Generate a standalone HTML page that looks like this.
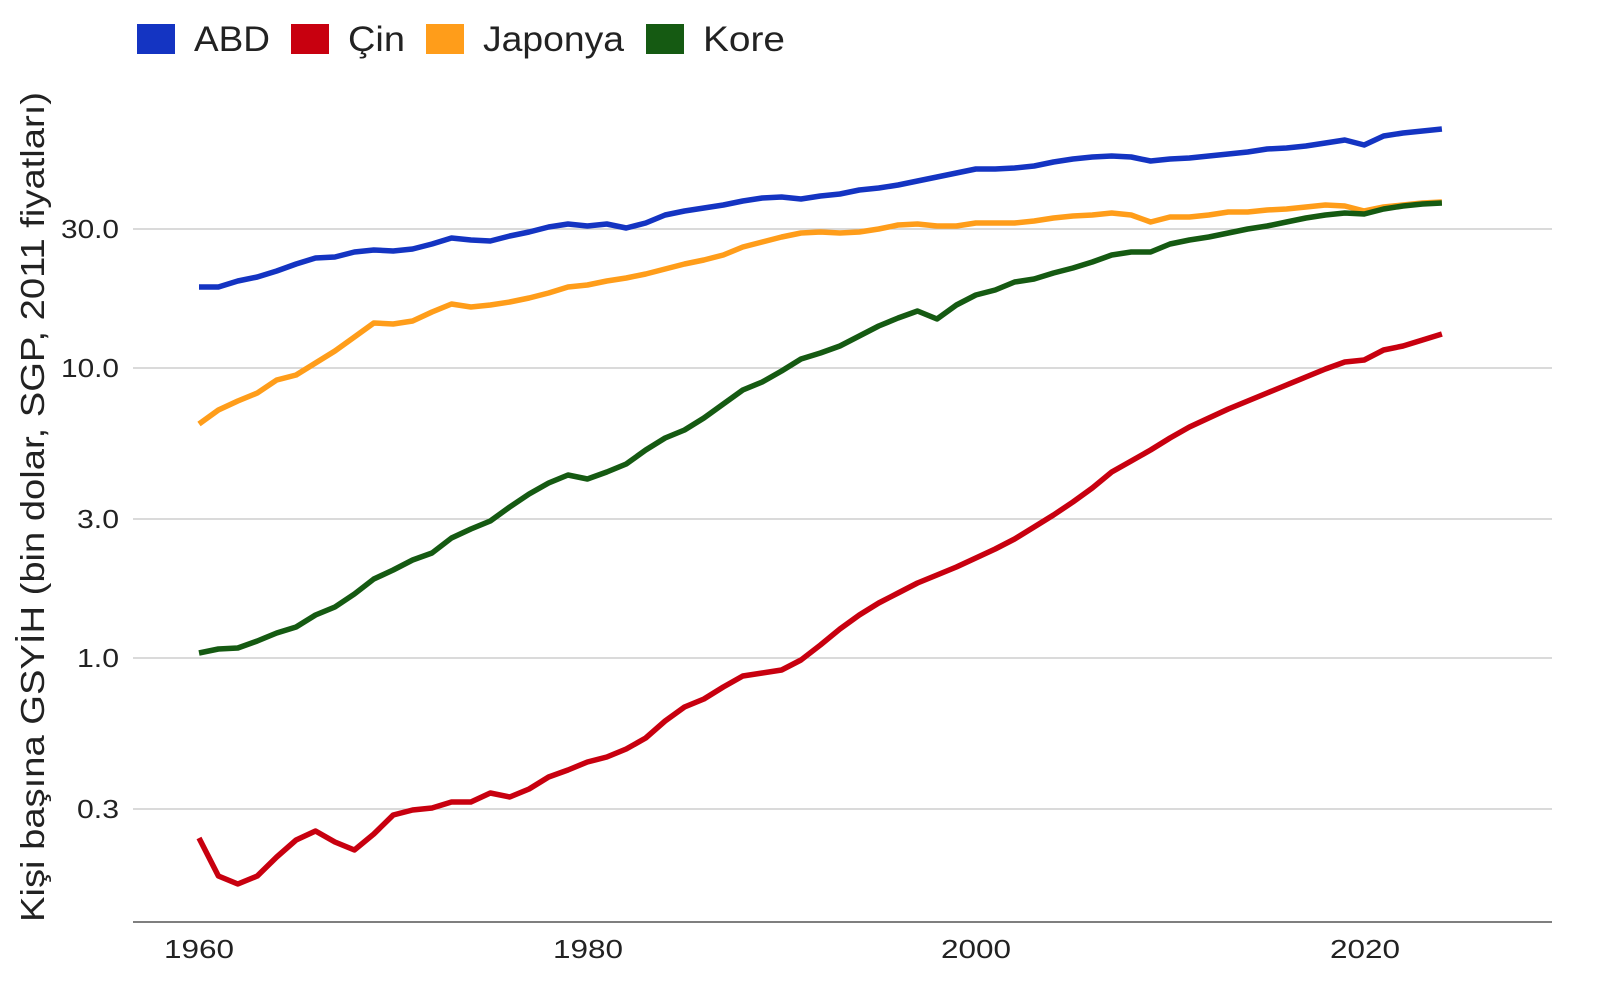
<!DOCTYPE html>
<html><head><meta charset="utf-8"><style>
html,body{margin:0;padding:0;background:#fff;width:1600px;height:1000px;overflow:hidden}
svg text{font-family:"Liberation Sans","DejaVu Sans",sans-serif;fill:#222}
</style></head><body>
<svg id="s" width="1600" height="1000" viewBox="0 0 1600 1000" xmlns="http://www.w3.org/2000/svg">
<g stroke="#c4c4c4" stroke-width="1.3">
<line x1="133" x2="1552" y1="229" y2="229"/>
<line x1="133" x2="1552" y1="368" y2="368"/>
<line x1="133" x2="1552" y1="519" y2="519"/>
<line x1="133" x2="1552" y1="658" y2="658"/>
<line x1="133" x2="1552" y1="809" y2="809"/>
</g>
<line x1="133" x2="1552" y1="922" y2="922" stroke="#555" stroke-width="1.5"/>
<g font-size="26" text-anchor="end">
<text x="119" y="238" textLength="58" lengthAdjust="spacingAndGlyphs">30.0</text>
<text x="119" y="377" textLength="58" lengthAdjust="spacingAndGlyphs">10.0</text>
<text x="119" y="528" textLength="42" lengthAdjust="spacingAndGlyphs">3.0</text>
<text x="119" y="667" textLength="42" lengthAdjust="spacingAndGlyphs">1.0</text>
<text x="119" y="818" textLength="42" lengthAdjust="spacingAndGlyphs">0.3</text>
</g>
<g font-size="26" text-anchor="middle">
<text x="199" y="958" textLength="70" lengthAdjust="spacingAndGlyphs">1960</text>
<text x="588" y="958" textLength="70" lengthAdjust="spacingAndGlyphs">1980</text>
<text x="976" y="958" textLength="70" lengthAdjust="spacingAndGlyphs">2000</text>
<text x="1365" y="958" textLength="70" lengthAdjust="spacingAndGlyphs">2020</text>
</g>
<text transform="translate(44,507) rotate(-90)" font-size="33" text-anchor="middle" textLength="830" lengthAdjust="spacingAndGlyphs">Kişi başına GSYİH (bin dolar, SGP, 2011 fiyatları)</text>
<g font-size="35">
<rect x="137" y="24" width="38" height="30" fill="#1434c2"/><text x="194" y="51" textLength="76" lengthAdjust="spacingAndGlyphs">ABD</text>
<rect x="291" y="24" width="38" height="30" fill="#c8000f"/><text x="348" y="51" textLength="57" lengthAdjust="spacingAndGlyphs">Çin</text>
<rect x="426" y="24" width="38" height="30" fill="#ff9d1a"/><text x="483" y="51" textLength="141" lengthAdjust="spacingAndGlyphs">Japonya</text>
<rect x="646" y="24" width="38" height="30" fill="#155a12"/><text x="703" y="51" textLength="82" lengthAdjust="spacingAndGlyphs">Kore</text>
</g>
<g id="lines" fill="none" stroke-width="5.5" stroke-linejoin="round"></g>
</svg>
<script>
var D={
"#1434c2":[287,287,281,277,271,264,258,257,252,250,251,249,244,238,240,241,236,232,227,224,226,224,228,223,215,211,208,205,201,198,197,199,196,194,190,188,185,181,177,173,169,169,168,166,162,159,157,156,157,161,159,158,156,154,152,149,148,146,143,140,145,136,133,131,129],
"#ff9d1a":[424,410,401,393,380,375,363,351,337,323,324,321,312,304,307,305,302,298,293,287,285,281,278,274,269,264,260,255,247,242,237,233,232,233,232,229,225,224,226,226,223,223,223,221,218,216,215,213,215,222,217,217,215,212,212,210,209,207,205,206,211,207,205,203,202],
"#155a12":[653,649,648,641,633,627,615,607,594,579,570,560,553,538,529,521,507,494,483,475,479,472,464,450,438,430,418,404,390,382,371,359,353,346,336,326,318,311,319,305,295,290,282,279,273,268,262,255,252,252,244,240,237,233,229,226,222,218,215,213,214,209,206,204,203],
"#c8000f":[838,876,884,876,857,840,831,842,850,834,815,810,808,802,802,793,797,789,777,770,762,757,749,738,721,707,699,687,676,673,670,660,645,629,615,603,593,583,575,567,558,549,539,527,515,502,488,472,461,450,438,427,418,409,401,393,385,377,369,362,360,350,346,340,334]};
var g=document.getElementById("lines"),ns="http://www.w3.org/2000/svg";
for(var c in D){var p=D[c].map(function(y,i){return (199+i*19.42).toFixed(1)+","+y}).join(" ");
var e=document.createElementNS(ns,"polyline");e.setAttribute("points",p);e.setAttribute("stroke",c);g.appendChild(e);}
</script>
</body></html>
